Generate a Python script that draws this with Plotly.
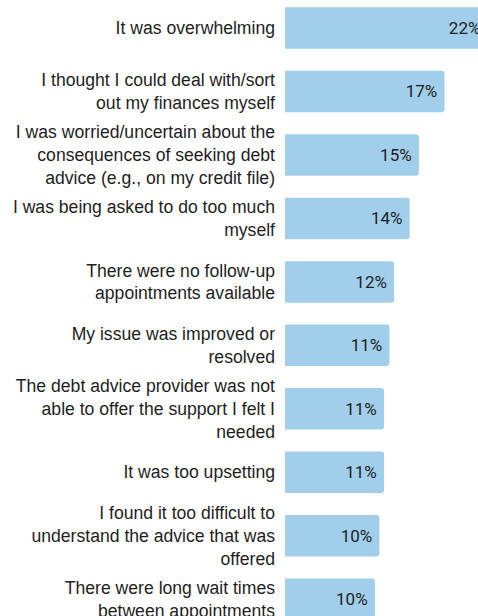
import plotly.graph_objects as go

# Reasons given for stopping debt advice (share of respondents, %)
reasons = [
    "It was overwhelming",
    "I thought I could deal with/sort<br>out my finances myself",
    "I was worried/uncertain about the<br>consequences of seeking debt<br>advice (e.g., on my credit file)",
    "I was being asked to do too much<br>myself",
    "There were no follow-up<br>appointments available",
    "My issue was improved or<br>resolved",
    "The debt advice provider was not<br>able to offer the support I felt I<br>needed",
    "It was too upsetting",
    "I found it too difficult to<br>understand the advice that was<br>offered",
    "There were long wait times<br>between appointments",
]
shares = [22.1, 17.4, 14.6, 13.6, 11.9, 11.4, 10.8, 10.8, 10.3, 9.8]

BAR_COLOR = "#a1cfeb"
TEXT_COLOR = "#1e1e1e"

fig = go.Figure(
    go.Bar(
        x=shares,
        y=reasons,
        orientation="h",
        width=0.654,
        marker=dict(color=BAR_COLOR, line=dict(width=0)),
        texttemplate="%{x:.0f}%\u00a0",
        textposition="inside",
        insidetextanchor="end",
        textfont=dict(family="Roboto", size=17, color=TEXT_COLOR),
        hoverinfo="skip",
    )
)

fig.update_layout(
    width=478,
    height=616,
    autosize=False,
    margin=dict(l=285, r=0, t=0, b=0, pad=0),
    paper_bgcolor="white",
    plot_bgcolor="white",
    barcornerradius=3,
    showlegend=False,
    xaxis=dict(
        range=[0, 21.05],
        automargin=False,
        showgrid=False,
        zeroline=False,
        showticklabels=False,
        showline=False,
        ticks="",
    ),
    yaxis=dict(
        type="category",
        categoryorder="array",
        categoryarray=reasons,
        range=[9.264, -0.441],
        automargin=False,
        showgrid=False,
        zeroline=False,
        showline=False,
        ticks="",
        ticklabelstandoff=9,
        tickfont=dict(family="Liberation Sans, Arial, sans-serif", size=17.6, color=TEXT_COLOR),
    ),
)

fig.write_html("out.html")
